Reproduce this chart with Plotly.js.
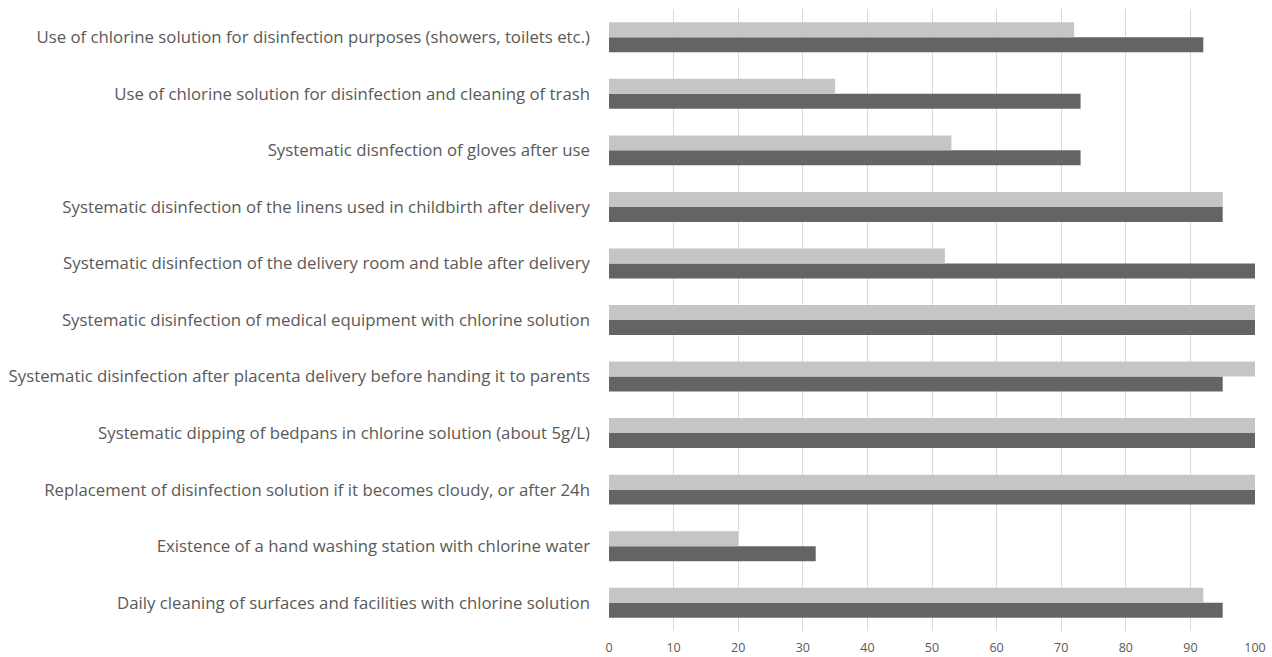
<!DOCTYPE html>
<html><head><meta charset="utf-8">
<script src="https://cdn.plot.ly/plotly-3.0.1.min.js"></script>
<style>body{margin:0;background:#fff}#chart{width:1272px;height:657px}</style>
</head><body><div id="chart"></div>
<script>
const categories = [
  "Daily cleaning of surfaces and facilities with chlorine solution",
  "Existence of a hand washing station with chlorine water",
  "Replacement of disinfection solution if it becomes cloudy, or after 24h",
  "Systematic dipping of bedpans in chlorine solution (about 5g/L)",
  "Systematic disinfection after placenta delivery before handing it to parents",
  "Systematic disinfection of medical equipment with chlorine solution",
  "Systematic disinfection of the delivery room and table after delivery",
  "Systematic disinfection of the linens used in childbirth after delivery",
  "Systematic disnfection of gloves after use",
  "Use of chlorine solution for disinfection and cleaning of trash",
  "Use of chlorine solution for disinfection purposes (showers, toilets etc.)"
];
const darkValues  = [95, 32, 100, 100, 95, 100, 100, 95, 73, 73, 92];
const lightValues = [92, 20, 100, 100, 100, 100, 52, 95, 53, 35, 72];
const xTicks = [0,10,20,30,40,50,60,70,80,90,100];

const traces = [
  {type:'bar', orientation:'h', y:categories, x:darkValues, name:'Series 2',
   marker:{color:'#646466'}, hoverinfo:'x'},
  {type:'bar', orientation:'h', y:categories, x:lightValues, name:'Series 1',
   marker:{color:'#c4c5c7'}, hoverinfo:'x'}
];
const layout = {
  width:1272, height:657,
  margin:{l:609, r:17, t:9, b:26},
  barmode:'group', bargap:0.47, bargroupgap:0,
  showlegend:false,
  paper_bgcolor:'#fff', plot_bgcolor:'#fff',
  font:{family:'"Open Sans", sans-serif', color:'#595959'},
  xaxis:{range:[0,100], tickvals:xTicks, showgrid:true, gridcolor:'#d9d9d9', gridwidth:1,
         zeroline:false, showline:false, ticks:'', ticklabelstandoff:7,
         tickfont:{size:12.5, color:'#595959'}, fixedrange:true},
  yaxis:{type:'category', showgrid:false, zeroline:false, showline:false, ticks:'',
         ticklabelstandoff:18, tickfont:{size:16.8, color:'#595959'}, automargin:false}
};
Plotly.newPlot('chart', traces, layout, {displayModeBar:false, staticPlot:true});
</script></body></html>
